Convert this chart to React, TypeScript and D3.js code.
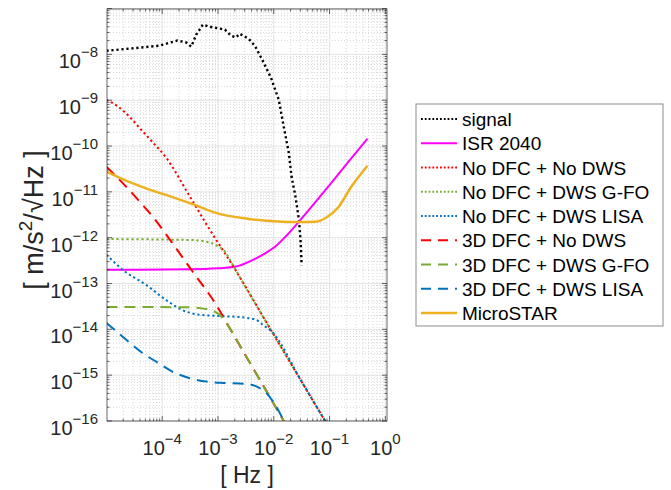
import React from 'react';
import * as d3 from 'd3';

// ---------- data (frequency [Hz], ASD [m/s^2/sqrt(Hz)]) ----------
const signal: [number, number][] = [
  [1e-5, 1.2e-8], [2.88e-5, 1.35e-8], [8.91e-5, 1.55e-8], [1.86e-4, 2.0e-8], [2.69e-4, 1.82e-8],
  [3.31e-4, 1.48e-8], [4.07e-4, 2.69e-8], [5.37e-4, 4.47e-8], [6.6e-4, 4.1e-8], [8.9e-4, 3.8e-8],
  [1.33e-3, 3.47e-8], [1.7e-3, 2.57e-8], [2.09e-3, 2.34e-8], [2.45e-3, 2.82e-8], [3.55e-3, 2.19e-8],
  [4.57e-3, 1.55e-8], [6.17e-3, 7.76e-9], [8.91e-3, 3.09e-9], [1.23e-2, 1.02e-9], [1.51e-2, 2.63e-10],
  [1.86e-2, 7.1e-11], [2.09e-2, 2.1e-11], [2.45e-2, 7.9e-12], [2.82e-2, 2.5e-12], [3.02e-2, 8.9e-13],
  [3.16e-2, 2.5e-13],
];
const isr2040: [number, number][] = [
  [1e-5, 2.0e-13], [3.16e-4, 2.04e-13], [1e-3, 2.14e-13], [2.09e-3, 2.34e-13], [3.98e-3, 3.16e-13],
  [7.24e-3, 4.68e-13], [1.12e-2, 6.76e-13], [1.62e-2, 1.05e-12], [2.82e-2, 2.24e-12], [0.1, 1.41e-11],
  [0.219, 4.57e-11], [0.479, 1.45e-10],
];
const noDfcNoDws: [number, number][] = [
  [1e-5, 1.02e-9], [1.7e-5, 6.92e-10], [2.88e-5, 3.8e-10], [3.89e-5, 2.51e-10], [6.31e-5, 1.32e-10],
  [1.17e-4, 5.62e-11], [3.02e-4, 8.51e-12], [6.92e-4, 1.58e-12], [1.95e-3, 2.19e-13], [1e-2, 7.59e-15],
  [8.51e-2, 9.55e-17],
];
const noDfcDwsGfo: [number, number][] = [
  [1e-5, 9.33e-13], [3.16e-4, 8.91e-13], [6.31e-4, 8.13e-13], [9.12e-4, 6.92e-13], [1.38e-3, 4.68e-13],
  [1.78e-3, 2.75e-13], [3.16e-3, 8.13e-14], [1e-2, 7.59e-15], [8.51e-2, 9.55e-17],
];
const noDfcDwsLisa: [number, number][] = [
  [1e-5, 4.27e-13], [1.95e-5, 2.0e-13], [5.13e-5, 9.33e-14], [1.17e-4, 4.37e-14], [2.29e-4, 2.63e-14],
  [4.57e-4, 2.09e-14], [1.05e-3, 1.95e-14], [2.34e-3, 1.86e-14], [4.79e-3, 1.62e-14], [6.31e-3, 1.26e-14],
  [8.91e-3, 9.33e-15], [3.16e-2, 7.24e-16], [8.51e-2, 9.55e-17],
];
const dfc3dNoDws: [number, number][] = [
  [1e-5, 3.55e-11], [2.0e-5, 1.51e-11], [3.98e-5, 6.03e-12], [7.94e-5, 2.24e-12], [1.33e-4, 9.55e-13],
  [3.55e-4, 1.78e-13], [9.12e-4, 3.55e-14], [1.58e-3, 1.12e-14], [3.16e-3, 2.63e-15], [7.24e-3, 4.68e-16],
  [1.58e-2, 9.12e-17],
];
const dfc3dDwsGfo: [number, number][] = [
  [1e-5, 3.09e-14], [3.16e-4, 3.02e-14], [6.92e-4, 2.69e-14], [1.17e-3, 1.86e-14], [1.58e-3, 1.12e-14],
  [3.16e-3, 2.63e-15], [7.24e-3, 4.68e-16], [1.58e-2, 9.12e-17],
];
const dfc3dDwsLisa: [number, number][] = [
  [1e-5, 1.38e-14], [1.95e-5, 6.92e-15], [4.37e-5, 3.09e-15], [8.91e-5, 1.78e-15], [1.51e-4, 1.2e-15],
  [3.02e-4, 8.71e-16], [6.17e-4, 7.24e-16], [1.38e-3, 6.76e-16], [3.16e-3, 6.46e-16], [5.37e-3, 5.37e-16],
  [7.24e-3, 4.17e-16], [1e-2, 2.51e-16], [1.58e-2, 9.12e-17],
];
const microStar: [number, number][] = [
  [1e-5, 2.75e-11], [2.09e-5, 1.82e-11], [5.89e-5, 1.12e-11], [1.58e-4, 7.59e-12], [3.72e-4, 5.25e-12],
  [9.12e-4, 3.47e-12], [3.55e-3, 2.57e-12], [1e-2, 2.29e-12], [2.82e-2, 2.19e-12], [5.62e-2, 2.24e-12],
  [8.51e-2, 2.69e-12], [0.145, 4.68e-12], [0.245, 1.29e-11], [0.479, 3.72e-11],
];

const seriesNames = [
  'signal', 'ISR 2040', 'No DFC + No DWS', 'No DFC + DWS G-FO', 'No DFC + DWS LISA',
  '3D DFC + No DWS', '3D DFC + DWS G-FO', '3D DFC + DWS LISA', 'MicroSTAR',
];
const seriesData = [signal, isr2040, noDfcNoDws, noDfcDwsGfo, noDfcDwsLisa, dfc3dNoDws, dfc3dDwsGfo, dfc3dDwsLisa, microStar];
const seriesColors = ['#000000', '#FF00FF', '#FF0000', '#77AC30', '#0072BD', '#FF0000', '#77AC30', '#0072BD', '#EDB120'];
const seriesStyles = ['dot', 'solid', 'dot', 'dot', 'dot', 'dash', 'dash', 'dash', 'solid'];
const seriesWidths = [2.4, 2, 2, 2, 2, 2, 2, 2, 2.5];

const xTickExps = [-4, -3, -2, -1, 0];
const yTickExps = [-16, -15, -14, -13, -12, -11, -10, -9, -8];

const W = 671;
const H = 490;
const FONT = "'Liberation Sans', Arial, Helvetica, sans-serif";

export default function App() {
  const x = d3.scaleLog().domain([Math.pow(10, -4.99), Math.pow(10, 0.03)]).range([107, 387]);
  const y = d3.scaleLog().domain([1e-16, Math.pow(10, -7.01)]).range([421, 9]);
  const [x0, x1] = x.range();
  const [y0, y1] = y.range();

  const line = d3
    .line<[number, number]>()
    .x((d) => x(d[0]))
    .y((d) => y(d[1]))
    .curve(d3.curveMonotoneX);
  const lineLin = d3
    .line<[number, number]>()
    .x((d) => x(d[0]))
    .y((d) => y(d[1]))
    .curve(d3.curveLinear);

  const dashFor = (s: string) => (s === 'dot' ? '2.2,2.8' : s === 'dash' ? '11,7' : undefined);

  // minor ticks
  const xMinor: number[] = [];
  for (let e = -5; e <= 0; e++) for (let k = 2; k <= 9; k++) {
    const v = k * Math.pow(10, e);
    const [a, b] = x.domain();
    if (v > a && v < b) xMinor.push(v);
  }
  const yMinor: number[] = [];
  for (let e = -16; e <= -8; e++) for (let k = 2; k <= 9; k++) {
    const v = k * Math.pow(10, e);
    const [a, b] = y.domain();
    if (v > a && v < b) yMinor.push(v);
  }
  const xMajor = [-5, -4, -3, -2, -1, 0].map((e) => Math.pow(10, e)).filter((v) => v >= x.domain()[0] * 0.99 && v <= x.domain()[1]);
  const yMajor = [-16, -15, -14, -13, -12, -11, -10, -9, -8, -7].map((e) => Math.pow(10, e)).filter((v) => v >= y.domain()[0] && v <= y.domain()[1] * 1.03);

  const axisColor = '#262626';
  const legX = 416, legY = 104, legW = 247, legH = 222;
  const rowH = 24.25;

  return (
    <svg width={W} height={H} style={{ position: 'absolute', left: 0, top: 0, background: '#fff' }} fontFamily={FONT}>
      <defs>
        <clipPath id="plotclip">
          <rect x={x0} y={y1} width={x1 - x0} height={y0 - y1} />
        </clipPath>
      </defs>
      <rect x={0} y={0} width={W} height={H} fill="#fff" />
      {/* grid */}
      <g>
        {xMinor.map((v, i) => (
          <line key={'xm' + i} x1={x(v)} x2={x(v)} y1={y1} y2={y0} stroke="#c8c8c8" strokeWidth={0.7} strokeDasharray="1,2" />
        ))}
        {yMinor.map((v, i) => (
          <line key={'ym' + i} x1={x0} x2={x1} y1={y(v)} y2={y(v)} stroke="#c8c8c8" strokeWidth={0.7} strokeDasharray="1,2" />
        ))}
        {xMajor.map((v, i) => (
          <line key={'xM' + i} x1={x(v)} x2={x(v)} y1={y1} y2={y0} stroke="#dcdcdc" strokeWidth={0.8} />
        ))}
        {yMajor.map((v, i) => (
          <line key={'yM' + i} x1={x0} x2={x1} y1={y(v)} y2={y(v)} stroke="#dcdcdc" strokeWidth={0.8} />
        ))}
      </g>
      {/* series */}
      <g clipPath="url(#plotclip)">
        {seriesData.map((d, i) => (
          <path
            key={'s' + i}
            d={(i === 0 ? lineLin : line)(d) || ''}
            fill="none"
            stroke={seriesColors[i]}
            strokeWidth={seriesWidths[i]}
            strokeDasharray={dashFor(seriesStyles[i])}
          />
        ))}
      </g>
      {/* axes box & ticks */}
      <rect x={x0} y={y1} width={x1 - x0} height={y0 - y1} fill="none" stroke={axisColor} strokeWidth={0.7} />
      <g stroke={axisColor} strokeWidth={0.7}>
        {xMinor.map((v, i) => (
          <g key={'xt' + i}>
            <line x1={x(v)} x2={x(v)} y1={y0} y2={y0 - 2.5} />
            <line x1={x(v)} x2={x(v)} y1={y1} y2={y1 + 2.5} />
          </g>
        ))}
        {yMinor.map((v, i) => (
          <g key={'yt' + i}>
            <line x1={x0} x2={x0 + 2.5} y1={y(v)} y2={y(v)} />
            <line x1={x1} x2={x1 - 2.5} y1={y(v)} y2={y(v)} />
          </g>
        ))}
        {xMajor.map((v, i) => (
          <g key={'xT' + i}>
            <line x1={x(v)} x2={x(v)} y1={y0} y2={y0 - 5} />
            <line x1={x(v)} x2={x(v)} y1={y1} y2={y1 + 5} />
          </g>
        ))}
        {yMajor.map((v, i) => (
          <g key={'yT' + i}>
            <line x1={x0} x2={x0 + 5} y1={y(v)} y2={y(v)} />
            <line x1={x1} x2={x1 - 5} y1={y(v)} y2={y(v)} />
          </g>
        ))}
      </g>
      {/* tick labels */}
      <g fill={axisColor}>
        {xTickExps.map((e) => (
          <text key={'xl' + e} x={x(Math.pow(10, e))} y={y0 + 34} textAnchor="middle" fontSize={20}>
            <tspan>10</tspan>
            <tspan fontSize={15} dy={-11}>{e < 0 ? '\u2212' + Math.abs(e) : String(e)}</tspan>
          </text>
        ))}
        {yTickExps.map((e) => (
          <text key={'yl' + e} x={x0 - 9} y={y(Math.pow(10, e)) + 14} textAnchor="end" fontSize={20}>
            <tspan>10</tspan>
            <tspan fontSize={15} dy={-11}>{e < 0 ? '\u2212' + Math.abs(e) : String(e)}</tspan>
          </text>
        ))}
      </g>
      {/* axis labels */}
      <text x={(x0 + x1) / 2} y={483} textAnchor="middle" fontSize={23} fill={axisColor}>[ Hz ]</text>
      <text transform={`translate(43,220) rotate(-90)`} textAnchor="middle" fontSize={27} fill={axisColor}>
        <tspan>[ m/s</tspan>
        <tspan fontSize={19} dy={-11}>2</tspan>
        <tspan dy={11}>/√Hz ]</tspan>
      </text>
      {/* legend */}
      <rect x={legX} y={legY} width={legW} height={legH} fill="#fff" stroke="#8c8c8c" strokeWidth={1} />
      {seriesNames.map((n, i) => {
        const cy = legY + 15 + i * rowH;
        return (
          <g key={'lg' + i}>
            <line
              x1={legX + 5}
              x2={legX + 41}
              y1={cy}
              y2={cy}
              stroke={seriesColors[i]}
              strokeWidth={seriesStyles[i] === 'solid' ? seriesWidths[i] : 2}
              strokeDasharray={seriesStyles[i] === 'dot' ? '1.8,2' : seriesStyles[i] === 'dash' ? '10,7' : undefined}
            />
            <text x={legX + 46} y={cy + 7} fontSize={19} fill="#000">{n}</text>
          </g>
        );
      })}
    </svg>
  );
}
